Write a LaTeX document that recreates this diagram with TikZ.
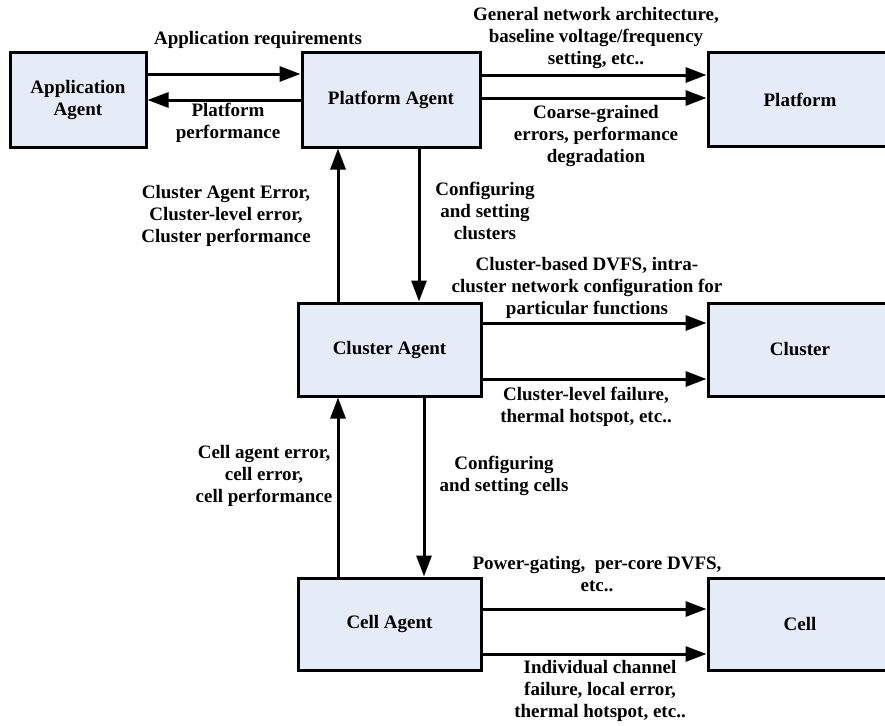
\documentclass[tikz,border=0pt]{standalone}
\usepackage{fontspec}
\setmainfont{Liberation Serif}
\usetikzlibrary{arrows.meta}
\definecolor{boxfill}{RGB}{230,236,247}
\newcommand\labfont{\fontsize{19}{22}\selectfont\bfseries}
\begin{document}
\begin{tikzpicture}[x=1pt,y=-1pt,
  agent/.style={draw, line width=3pt, fill=boxfill, font=\labfont, align=center, inner sep=0pt},
  arr/.style={line width=3pt, -{Triangle[length=21pt,width=15pt]}},
  lab/.style={font=\labfont, align=center, inner sep=0pt}]
\useasboundingbox (0,0) rectangle (885,725);
% boxes
\node[agent, minimum width=136pt, minimum height=94pt] (app) at (78,100) {Application\\Agent};
\node[agent, minimum width=178pt, minimum height=94pt] (pa) at (391,100) {Platform Agent};
\node[agent, minimum width=184pt, minimum height=93pt] (plat) at (800,99.5) {Platform};
\node[agent, minimum width=183pt, minimum height=93pt] (ca) at (389.5,349.5) {Cluster Agent};
\node[agent, minimum width=184pt, minimum height=93pt] (cl) at (800,349.5) {Cluster};
\node[agent, minimum width=183pt, minimum height=92pt] (cea) at (389.5,624) {Cell Agent};
\node[agent, minimum width=184pt, minimum height=92pt] (cell) at (800,624) {Cell};
% helper coordinates
\coordinate (xa) at (338,0);
\coordinate (xb) at (419,0);
\coordinate (xc) at (424,0);
\coordinate (ya) at (0,74);
\coordinate (yb) at (0,100);
\coordinate (yc) at (0,75);
\coordinate (yd) at (0,98);
\coordinate (ye) at (0,323);
\coordinate (yf) at (0,379);
\coordinate (yg) at (0,609);
\coordinate (yh) at (0,654);
% arrows
\draw[arr] (app.east |- ya) -- (pa.west |- ya);
\draw[arr] (pa.west |- yb) -- (app.east |- yb);
\draw[arr] (pa.east |- yc) -- (plat.west |- yc);
\draw[arr] (pa.east |- yd) -- (plat.west |- yd);
\draw[arr] (ca.north -| xa) -- (pa.south -| xa);
\draw[arr] (pa.south -| xb) -- (ca.north -| xb);
\draw[arr] (cea.north -| xa) -- (ca.south -| xa);
\draw[arr] (ca.south -| xc) -- (cea.north -| xc);
\draw[arr] (ca.east |- ye) -- (cl.west |- ye);
\draw[arr] (ca.east |- yf) -- (cl.west |- yf);
\draw[arr] (cea.east |- yg) -- (cell.west |- yg);
\draw[arr] (cea.east |- yh) -- (cell.west |- yh);
% labels
\node[lab] (l1) at (258,40) {Application requirements};
\node[lab] (l2) at (228,123) {Platform\\performance};
\node[lab] (l3) at (596,38) {General network architecture,\\baseline voltage/frequency\\setting, etc..};
\node[lab] (l4) at (596,136) {Coarse-grained\\errors, performance\\degradation};
\node[lab] (l5) at (226,216) {Cluster Agent Error,\\Cluster-level error,\\Cluster performance};
\node[lab] (l6) at (485,211) {Configuring\\and setting\\clusters};
\node[lab] (l7) at (587,288) {Cluster-based DVFS, intra-\\cluster network configuration for\\particular functions};
\node[lab] (l8) at (586,407) {Cluster-level failure,\\thermal hotspot, etc..};
\node[lab] (l9) at (264,476) {Cell agent error,\\cell error,\\cell performance};
\node[lab] (l10) at (504,476) {Configuring\\and setting cells};
\node[lab] (l11) at (597,574) {Power-gating,~ per-core DVFS,\\etc..};
\node[lab] (l12) at (600,691) {Individual channel\\failure, local error,\\thermal hotspot, etc..};
\end{tikzpicture}
\end{document}
